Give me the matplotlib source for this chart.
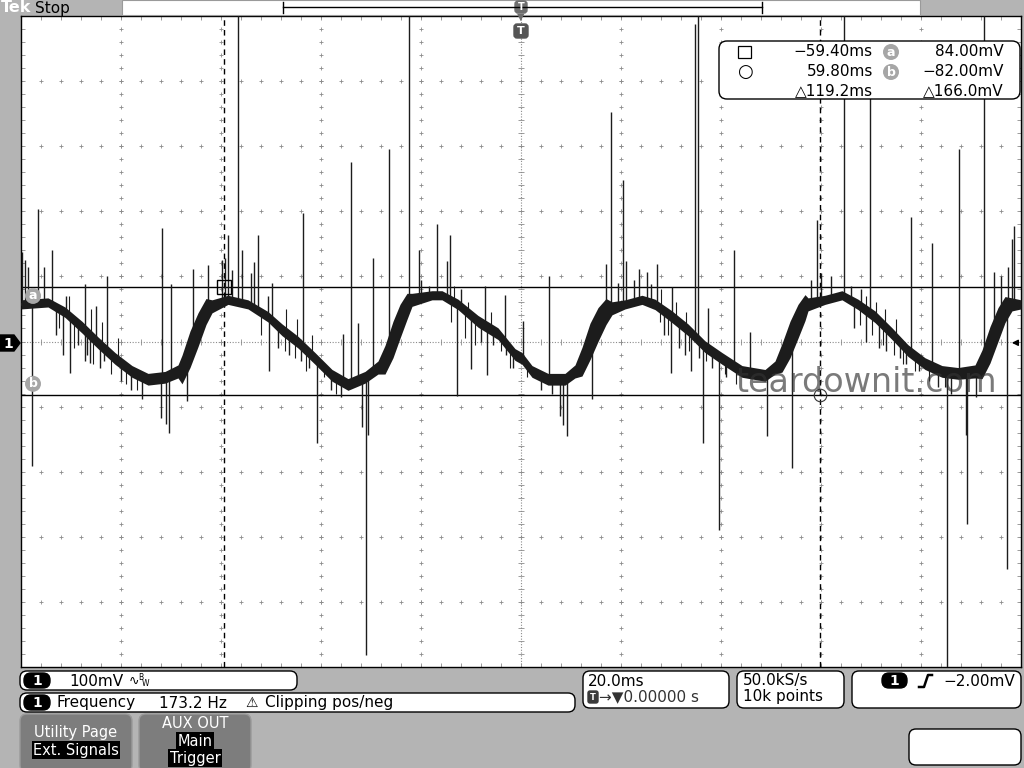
import numpy as np
import matplotlib
matplotlib.use("Agg")
import matplotlib.pyplot as plt
from matplotlib.patches import FancyBboxPatch, Polygon
from matplotlib.lines import Line2D
from matplotlib.transforms import Affine2D

# scope settings (from the on-screen readouts)
volts_per_div = 100      # mV / div
time_per_div = 20.0      # ms / div
trig_level = -2.0        # mV
cursor_t = [-59.40, 59.80]   # ms
cursor_v = [84.0, -82.0]     # mV

# trace: time (ms), centre (mV), half width of noise band (mV)
trace_t = [-100, -94.6, -91.2, -87.8, -84.6, -81.2, -77.8, -74.6, -71.2, -68.6,
           -67.8, -66.2, -64.6, -63.0, -61.8, -58.6, -54.6, -50.6, -47.8, -44.6,
           -41.2, -37.8, -34.6, -31.2, -28.6,
           -27.2, -25.6, -24.2, -22.8, -21.8, -17.8, -15.8, -12.6, -8.6, -4.6,
           -1.2, 0.2, 2.2, 5.4, 8.8, 10.8,
           12.2, 13.8, 15.4, 17.0, 18.2, 20.8, 24.2, 26.8, 30.2, 33.4,
           36.8, 40.2, 44.2, 48.8, 50.8,
           52.2, 53.8, 55.4, 56.8, 57.4, 60.8, 64.2, 67.4, 70.8, 74.2,
           77.4, 80.8, 84.2, 87.4, 90.8,
           92.2, 93.8, 95.4, 96.8, 98.2, 100]
trace_mv = [57, 60, 45, 22, -2, -26, -46, -58, -55, -46,
            -43, -12, 18, 46, 54, 64, 57, 38, 18, -1,
            -26, -52, -66, -55, -40,
            -28, 3, 31, 54, 64, 71, 71, 57, 31, 12,
            -20, -26, -46, -58, -58, -46,
            -31, 0, 26, 46, 51, 57, 64, 57, 38, 18,
            -8, -26, -46, -52, -40,
            -25, 3, 31, 52, 57, 64, 71, 57, 38, 12,
            -14, -34, -46, -49, -46,
            -35, -5, 26, 49, 57, 57]
trace_half = [7, 7, 8, 9, 9, 9, 9, 9, 9, 10,
              22, 28, 26, 20, 10, 7, 7, 8, 9, 9,
              9, 9, 9, 9, 10,
              22, 28, 26, 20, 10, 7, 7, 8, 9, 9,
              9, 9, 9, 9, 9, 10,
              22, 28, 26, 20, 10, 7, 7, 8, 9, 9,
              9, 9, 9, 9, 10,
              22, 28, 26, 20, 10, 7, 7, 8, 9, 9,
              9, 9, 9, 9, 10,
              22, 28, 26, 20, 10, 7]

# glitches going up: time (ms), tip (mV)
up_t = [-99.8, -99.2, -98.6, -96.6, -95.4, -93.8, -91.0, -87.2, -85.0, -82.8,
        -71.8, -70.0, -65.6, -62.6, -59.8, -59.2, -58.6, -57.8, -56.6, -55.8,
        -54.0, -53.4, -52.6, -50.6, -49.8, -43.6, -35.6, -34.0, -32.6, -29.6,
        -26.4, -22.4, -20.4, -20.0, -18.4, -16.8, -14.8, -14.2, -12.0, -7.2,
        -3.2, 0.4, 5.6, 17.0, 18.0, 19.4, 20.4, 21.0, 22.6, 23.6,
        25.2, 26.0, 27.2, 30.2, 34.8, 35.4, 37.4, 42.6, 45.8, 58.0,
        59.2, 60.0, 62.0, 64.6, 66.0, 68.0, 69.8, 78.0, 82.2, 87.6,
        92.6, 94.6, 96.0, 97.4, 98.2, 98.6]
up_tip = [138, 125, 115, 203, 115, 140, 70, 88, 55, 100,
          175, 88, 112, 117, 125, 129, 163, 110, 500, 140,
          105, 122, 164, 70, 90, 197, 12, 276, 28, 129,
          296, 500, 140, 95, 85, 180, 123, 164, 80, 86,
          71, 31, 100, 119, 352, 90, 248, 123, 95, 112,
          107, 88, 119, 83, 487, 500, 51, 140, 15, 95,
          187, 105, 100, 500, 85, 80, 460, 191, 152, 296,
          500, 106, 100, 115, 157, 177]

# glitches going down: time (ms), tip (mV)
down_t = [-97.8, -93.0, -91.6, -90.2, -88.6, -87.2, -86.8, -86.2, -84.2, -83.4,
          -80.0, -78.0, -75.8, -72.0, -71.0, -70.4, -66.8, -50.4, -48.6, -46.4,
          -44.0, -42.4, -40.8, -38.0, -36.0, -31.8, -31.0, -30.6, -12.8, -10.0,
          -8.0, -6.8, -5.6, -3.0, -1.6, 4.0, 6.2, 7.8, 8.4, 9.2,
          14.2, 28.6, 30.0, 31.6, 32.8, 34.0, 35.6, 36.4, 38.2, 39.6,
          41.0, 49.2, 54.2, 66.6, 69.0, 71.6, 73.0, 75.8, 77.0, 79.6,
          83.4, 85.2, 86.0, 89.0, 89.2, 91.0, 97.2]
down_tip = [-192, 10, -20, -49, -5, -30, -20, -33, -40, -30,
            -60, -75, -88, -117, -127, -140, -92, -45, -10, -20,
            -30, -40, -156, -75, -85, -131, -482, -143, -84, -43,
            0, -52, -5, -20, -40, -75, -80, -114, -128, -145,
            -88, 10, -49, -10, -20, -46, -25, -156, -40, -289,
            -55, -145, -195, 20, 0, -10, -15, -25, -35, -45,
            -70, -500, -80, -143, -280, -85, -349]

# short hairs on the falling slopes: time (ms), tip (mV)
hair_up_t = [-90.4, -86.0, -83.8, -80.6, -47.0, -44.8, -41.8, -13.4, -10.6, -6.0,
             28.0, 31.0, 33.0, 69.0, 71.0, 72.8, 75.0]
hair_up_tip = [70, 50, 30, 5, 50, 35, 10, 85, 60, 45,
               80, 60, 45, 70, 60, 50, 35]
hair_dn_t = [-92.4, -89.4, -85.6, -82.0, -79.0, -76.8, -52.0, -47.2, -45.2, -43.0,
             -39.4, -37.0, -14.0, -11.2, -9.2, -4.0, -2.2, 1.2, 27.8, 29.4,
             33.6, 37.0, 40.8, 43.0, 67.8, 70.2, 72.4, 74.6, 76.4, 78.8,
             81.6, 84.8]
hair_dn_tip = [20, -10, -35, -50, -65, -75, 10, -15, -25, -45,
               -55, -80, 30, 5, -5, -15, -40, -55, 30, 10,
               -15, -30, -50, -65, 25, 10, -5, -20, -35, -45,
               -60, -70]

# readouts
cursor_time_txt = ["\u221259.40ms", "59.80ms", "\u25b3119.2ms"]
cursor_volt_txt = ["84.00mV", "\u221282.00mV", "\u25b3166.0mV"]

bg = '#b4b4b4'
ink = '#1c1c1c'
grid_c = '#8c8c8c'

fig = plt.figure(figsize=(10.24, 7.68), dpi=100, facecolor=bg)
# pixel coordinates, origin top-left
PX = Affine2D().scale(1 / 1024, -1 / 768).translate(0, 1) + fig.transFigure


def rbox(x0, y0, x1, y1, fc='white', ec='black', r=7, lw=1.0):
    fig.add_artist(FancyBboxPatch((x0, y0), x1 - x0, y1 - y0,
                                  boxstyle=f'round,pad=0,rounding_size={r}',
                                  transform=PX, fc=fc, ec=ec, lw=lw))


def ptext(x, y, s, **kw):
    kw.setdefault('va', 'center')
    kw.setdefault('fontsize', 11)
    fig.text(x, y, s, transform=PX, **kw)


def badge(x0, y0, x1, y1, s='1'):
    rbox(x0, y0, x1, y1, fc='black', ec='black', r=7)
    ptext((x0 + x1) / 2, (y0 + y1) / 2 + 0.5, s, ha='center', color='white',
          fontweight='bold', fontsize=10)


# ---- graticule ----
ax = fig.add_axes([21 / 1024, 1 - 667 / 768, 1000 / 1024, 651 / 768])
ax.set_facecolor('white')
ax.set_xlim(-5 * time_per_div, 5 * time_per_div)
ax.set_ylim(-5 * volts_per_div, 5 * volts_per_div)
for s in ax.spines.values():
    s.set_color('black')
    s.set_linewidth(1.0)

minor_x = np.arange(-5 * time_per_div, 5 * time_per_div + 0.01, time_per_div / 5)
minor_y = np.arange(-5 * volts_per_div, 5 * volts_per_div + 0.01, volts_per_div / 5)
ax.set_xticks(minor_x)
ax.set_yticks(minor_y)
ax.tick_params(direction='in', length=3, width=0.6, color=grid_c,
               top=True, right=True, labelbottom=False, labelleft=False)

for k in range(-4, 5):
    if k == 0:
        continue
    ax.plot(minor_x, np.full_like(minor_x, k * volts_per_div), '+', ms=3.5,
            mew=0.6, color=grid_c, zorder=1)
    ax.plot(np.full_like(minor_y, k * time_per_div), minor_y, '+', ms=3.5,
            mew=0.6, color=grid_c, zorder=1)
ax.axhline(0, color=grid_c, lw=0.8, ls=(0, (1, 1.5)), zorder=1)
ax.axvline(0, color=grid_c, lw=0.8, ls=(0, (1, 1.5)), zorder=1)
ax.plot(minor_x, np.zeros_like(minor_x), '|', ms=5, mew=0.6, color=grid_c, zorder=1)
ax.plot(np.zeros_like(minor_y), minor_y, '_', ms=5, mew=0.6, color=grid_c, zorder=1)

# cursors
for ct in cursor_t:
    ax.axvline(ct, color='black', lw=1.0, ls=(0, (4, 3)), zorder=2)
for cv in cursor_v:
    ax.axhline(cv, color='black', lw=1.0, zorder=2)

# waveform
t = np.array(trace_t)
mv = np.array(trace_mv)
hw = np.array(trace_half)
ax.fill_between(t, mv - hw, mv + hw, color=ink, lw=0, zorder=3)
ax.plot(t, mv, color=ink, lw=2, zorder=3)
for st, tip, lw in ((up_t, up_tip, 1.0), (down_t, down_tip, 1.0),
                    (hair_up_t, hair_up_tip, 0.8), (hair_dn_t, hair_dn_tip, 0.8)):
    ax.vlines(st, np.interp(st, t, mv), tip, color=ink, lw=lw, zorder=3)

ax.plot(cursor_t[0], cursor_v[0], marker='s', ms=10, mfc='none', mec='black',
        mew=1.0, zorder=4)
ax.plot(cursor_t[1], cursor_v[1], marker='o', ms=9, mfc='none', mec='#333333',
        mew=0.8, zorder=4)

for lab, cv, off in (('a', cursor_v[0], -14), ('b', cursor_v[1], 17)):
    ax.text(-97.6, cv + off, lab, ha='center', va='center', color='white',
            fontweight='bold', fontsize=9, zorder=5,
            bbox=dict(boxstyle='circle,pad=0.12', fc='#a6a6a6', ec='none'))

# trigger level arrow at right edge
ax.annotate('', xy=(97.6, trig_level), xytext=(100, trig_level),
            arrowprops=dict(arrowstyle='-|>', color='black', lw=1.0,
                            mutation_scale=9), zorder=5)

# ---- top bar ----
ptext(1, 8, 'Tek', color='white', fontweight='bold', fontsize=11.5)
ptext(35, 8, 'Stop', color='black', fontsize=11)
fig.add_artist(Polygon([(122, 0), (920, 0), (920, 15), (122, 15)], closed=True,
                       transform=PX, fc='white', ec='#9a9a9a', lw=0.8))
for xs, ys in (([283, 283], [2, 13]), ([283, 762], [7, 7]), ([762, 762], [2, 13])):
    fig.add_artist(Line2D(xs, ys, transform=PX, color='black', lw=1.0))
rbox(515, 1, 527, 13, fc='#6e6e6e', ec='#6e6e6e', r=3)
ptext(521, 7.5, 'T', ha='center', color='white', fontweight='bold', fontsize=7)
ptext(521, 17, '\u25bc', ha='center', color='#6e6e6e', fontsize=7)
rbox(514, 24, 528, 38, fc='#555555', ec='#555555', r=3)
ptext(521, 31.5, 'T', ha='center', color='white', fontweight='bold', fontsize=8)

# channel 1 ground marker
fig.add_artist(Polygon([(0, 335), (14, 335), (20, 343), (14, 351), (0, 351)],
                       closed=True, transform=PX, fc='black', ec='black'))
ptext(8, 343.5, '1', ha='center', color='white', fontweight='bold', fontsize=10)

# cursor readout box
rbox(719, 41, 1020, 99, r=8)
fig.add_artist(Polygon([(738, 46), (751, 46), (751, 58), (738, 58)], closed=True,
                       transform=PX, fc='white', ec='black', lw=0.9))
ptext(745, 72, '\u25cb', ha='center', fontsize=13)
for i, y in enumerate([52, 72, 91]):
    ptext(873, y, cursor_time_txt[i], ha='right')
    ptext(1004, y, cursor_volt_txt[i], ha='right')
for lab, y in (('a', 52), ('b', 72)):
    ptext(891, y, lab, ha='center', color='white', fontweight='bold', fontsize=9,
          bbox=dict(boxstyle='circle,pad=0.12', fc='#a6a6a6', ec='none'))

# watermark
ptext(866, 382, 'teardownit.com', ha='center', fontsize=24, color='#333333',
      alpha=0.65)

# ---- bottom readouts ----
rbox(20, 671, 297, 690)
badge(24, 673, 50, 688)
ptext(69, 681, '100mV')
ptext(129, 681, '\u223f', fontsize=9)
ptext(138, 678, 'B', fontsize=5.5)
ptext(142, 684, 'W', fontsize=5.5)

rbox(20, 693, 575, 712)
badge(24, 695, 50, 710)
ptext(57, 703, 'Frequency')
ptext(159, 703, '173.2 Hz')
ptext(245, 703, '\u26a0', fontsize=10)
ptext(265, 703, 'Clipping pos/neg')

rbox(583, 671, 729, 708)
ptext(588, 681, '20.0ms')
rbox(588, 691, 598, 703, fc='#3a3a3a', ec='#3a3a3a', r=2)
ptext(593, 697.5, 'T', ha='center', color='white', fontweight='bold', fontsize=6)
ptext(599, 697, '\u2192\u25bc0.00000 s', color='#333333')

rbox(737, 671, 844, 708)
ptext(743, 681, '50.0kS/s')
ptext(743, 697, '10k points')

rbox(852, 671, 1021, 708)
badge(882, 673, 907, 688)
fig.add_artist(Line2D([919, 924, 928, 932], [687, 687, 675, 675], transform=PX,
                      color='black', lw=1.8))
ptext(1015, 681, '\u22122.00mV', ha='right')

rbox(909, 729, 1021, 765)

# soft keys
for x0, x1 in ((20, 132), (139, 251)):
    rbox(x0, 714, x1, 772, fc='#7d7d7d', ec='#9a9a9a', r=7)
ptext(76, 733, 'Utility Page', ha='center', color='white', fontsize=10.5)
ptext(76, 750, 'Ext. Signals', ha='center', color='white', fontsize=10.5,
      bbox=dict(fc='black', ec='none', pad=0.8))
ptext(195, 723, 'AUX OUT', ha='center', color='white', fontsize=10.5)
ptext(195, 741, 'Main', ha='center', color='white', fontsize=10.5,
      bbox=dict(fc='black', ec='none', pad=0.8))
ptext(195, 758, 'Trigger', ha='center', color='white', fontsize=10.5,
      bbox=dict(fc='black', ec='none', pad=0.8))

fig.savefig('out.png', dpi=100, facecolor=bg)
